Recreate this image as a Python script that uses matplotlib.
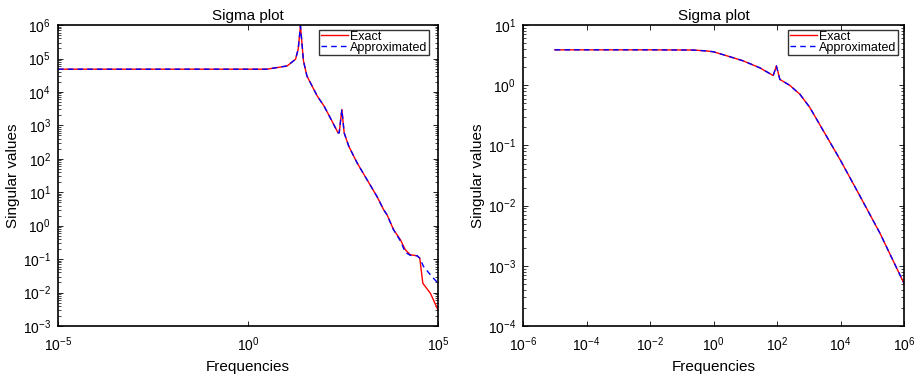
import numpy as np
import matplotlib
matplotlib.use("Agg")
import matplotlib.pyplot as plt
from matplotlib.ticker import LogLocator, FixedLocator, LogFormatterMathtext, NullLocator

plt.rcParams['font.family'] = ['Liberation Sans', 'DejaVu Sans']
plt.rcParams['mathtext.fontset'] = 'custom'
plt.rcParams['mathtext.rm'] = 'Liberation Sans'
plt.rcParams['mathtext.it'] = 'Liberation Sans'
plt.rcParams['mathtext.bf'] = 'Liberation Sans'

# ---- Left plot data (frequency, singular value) ----
left_freq_exact = [1e-5, 1e-1, 3.16, 10.7, 17.8, 20.9, 24.0, 28.8, 35.5, 66.1, 100, 132,
                   234, 251, 295, 339, 447, 741, 1349, 2455, 3715, 4571, 6761,
                   10233, 13804, 18621, 28184, 33113, 39811, 63096, 100000]
left_sv_exact = [4.8e4, 4.8e4, 4.8e4, 6.0e4, 9.5e4, 1.9e5, 9.5e5, 8.5e4, 3.0e4, 7.6e3, 3.8e3,
                 2.1e3, 6.0e2, 6.0e2, 3.0e3, 6.0e2, 2.4e2, 7.6e1, 2.4e1, 7.6, 3.0, 2.1,
                 7.6e-1, 3.8e-1, 1.9e-1, 1.35e-1, 1.26e-1, 1.07e-1, 1.9e-2, 9.5e-3, 3.0e-3]
left_freq_approx = [1e-5, 1e-1, 3.16, 10.7, 17.8, 20.9, 24.0, 28.8, 35.5, 66.1, 100, 132,
                    234, 251, 295, 339, 447, 741, 1349, 2455, 3715, 4571, 6761,
                    10233, 13804, 18621, 28184, 33113, 41687, 63096, 100000]
left_sv_approx = [4.8e4, 4.8e4, 4.8e4, 6.0e4, 9.5e4, 1.9e5, 9.5e5, 8.5e4, 3.0e4, 7.6e3, 3.8e3,
                  2.1e3, 6.0e2, 6.0e2, 3.0e3, 6.0e2, 2.4e2, 7.6e1, 2.4e1, 7.6, 3.0, 2.1,
                  7.6e-1, 3.5e-1, 1.6e-1, 1.3e-1, 1.26e-1, 1.07e-1, 6.0e-2, 3.4e-2, 1.9e-2]

# ---- Right plot data ----
right_freq = [1e-5, 1e-2, 0.23, 0.60, 1.0, 2.57, 8.5, 28.8, 75.9, 95.5, 123, 251, 525,
              1072, 2239, 9550, 40738, 173780, 1e6]
right_sv = [3.88, 3.88, 3.85, 3.72, 3.6, 3.1, 2.55, 1.95, 1.45, 2.1, 1.25, 1.0, 0.71,
            0.43, 0.22, 0.059, 0.0145, 0.0035, 5.1e-4]

title_text = "Sigma plot"
xlabel_text = "Frequencies"
ylabel_text = "Singular values"
legend_labels = ["Exact", "Approximated"]

fig = plt.figure(figsize=(9.15, 3.78), dpi=100)
axL = fig.add_axes([0.0634, 0.1376, 0.4153, 0.796])
axR = fig.add_axes([0.5716, 0.1376, 0.4164, 0.796])

def style(ax):
    ax.set_xscale('log')
    ax.set_yscale('log')
    ax.tick_params(which='both', direction='in', top=True, right=True, labelsize=10)
    ax.tick_params(which='major', length=3.5, width=0.6)
    ax.tick_params(which='minor', length=2, width=0.5)
    ax.tick_params(axis='x', which='major', pad=7)
    ax.tick_params(axis='y', which='major', pad=5)
    for s in ax.spines.values():
        s.set_linewidth(1.2)
    ax.set_title(title_text, fontsize=11, pad=4)
    ax.set_xlabel(xlabel_text, fontsize=11, labelpad=4)
    ax.set_ylabel(ylabel_text, fontsize=11, labelpad=2)
    ax.yaxis.set_major_formatter(LogFormatterMathtext())
    ax.xaxis.set_major_formatter(LogFormatterMathtext())

axL.plot(left_freq_exact, left_sv_exact, color='red', lw=1.0, label=legend_labels[0])
axL.plot(left_freq_approx, left_sv_approx, color='blue', lw=1.0, ls=(0, (4, 3)), label=legend_labels[1])
style(axL)
axL.set_xlim(1e-5, 1e5)
axL.set_ylim(1e-3, 1e6)
axL.xaxis.set_major_locator(FixedLocator([1e-5, 1e0, 1e5]))
axL.xaxis.set_minor_locator(NullLocator())
axL.yaxis.set_major_locator(LogLocator(base=10, numticks=20))
axL.yaxis.set_minor_locator(LogLocator(base=10, subs=np.arange(2, 10), numticks=20))

axR.plot(right_freq, right_sv, color='red', lw=1.0, label=legend_labels[0])
axR.plot(right_freq, right_sv, color='blue', lw=1.0, ls=(0, (4, 3)), label=legend_labels[1])
style(axR)
axR.set_xlim(1e-6, 1e6)
axR.set_ylim(1e-4, 1e1)
axR.xaxis.set_major_locator(FixedLocator([10.0**k for k in range(-6, 7, 2)]))
axR.xaxis.set_minor_locator(NullLocator())
axR.yaxis.set_major_locator(LogLocator(base=10, numticks=20))
axR.yaxis.set_minor_locator(LogLocator(base=10, subs=np.arange(2, 10), numticks=20))

for ax, anchor in ((axL, (0.975, 0.985)), (axR, (0.983, 0.985))):
    leg = ax.legend(loc='upper right', bbox_to_anchor=anchor, fontsize=9, frameon=True,
                    fancybox=False, edgecolor='black', handlelength=2.2, handletextpad=0.15,
                    borderpad=0.1, labelspacing=-0.1, borderaxespad=0.0)
    leg.get_frame().set_linewidth(1.0)

fig.savefig("out.png", dpi=100)
